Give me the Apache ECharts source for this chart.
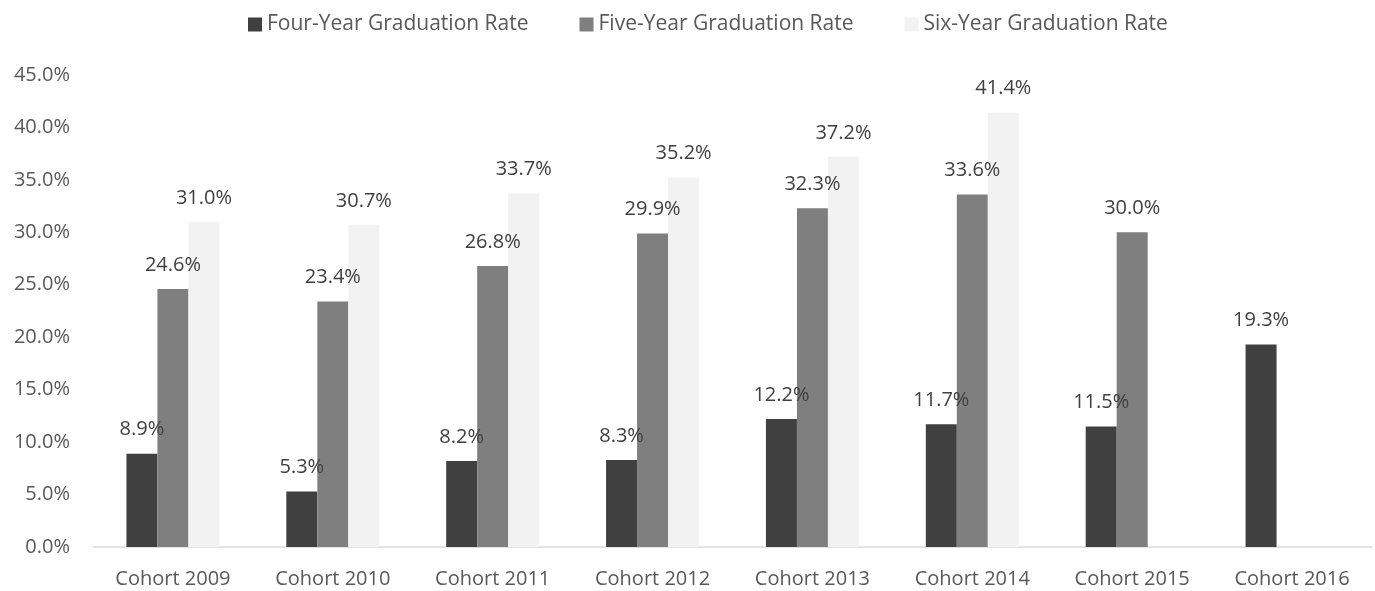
<!DOCTYPE html>
<html>
<head>
<meta charset="utf-8">
<script src="https://cdn.jsdelivr.net/npm/echarts@6/dist/echarts.min.js"></script>
<style>
  html, body { margin: 0; padding: 0; background: #fff; }
  #chart { width: 1375px; height: 591px; }
</style>
</head>
<body>
<div id="chart"></div>
<script>
  const categories = ['Cohort 2009', 'Cohort 2010', 'Cohort 2011', 'Cohort 2012', 'Cohort 2013', 'Cohort 2014', 'Cohort 2015', 'Cohort 2016'];
  const fourYear = [8.9, 5.3, 8.2, 8.3, 12.2, 11.7, 11.5, 19.3];
  const fiveYear = [24.6, 23.4, 26.8, 29.9, 32.3, 33.6, 30.0, null];
  const sixYear = [31.0, 30.7, 33.7, 35.2, 37.2, 41.4, null, null];
  const seriesNames = ['Four-Year Graduation Rate', 'Five-Year Graduation Rate', 'Six-Year Graduation Rate'];

  const font = '"Open Sans", sans-serif';
  const pct = (v) => Number(v).toFixed(1) + '%';

  const chart = echarts.init(document.getElementById('chart'));

  const labelStyle = {
    show: true,
    position: 'top',
    distance: 14,
    color: '#404040',
    fontSize: 20,
    fontFamily: font,
    formatter: (p) => pct(p.value),
  };

  const makeSeries = (name, data, color) => ({
    name,
    type: 'bar',
    data,
    barWidth: 31,
    barGap: '0%',
    itemStyle: { color },
    label: labelStyle,
  });

  chart.setOption({
    animation: false,
    textStyle: { fontFamily: font },
    legend: {
      top: 9,
      left: 243,
      itemWidth: 14,
      itemHeight: 14,
      itemGap: 51,
      icon: 'rect',
      textStyle: { color: '#595959', fontSize: 21, fontFamily: font },
      data: seriesNames,
    },
    grid: { left: 93, right: 3, top: 75, bottom: 44 },
    xAxis: {
      type: 'category',
      data: categories,
      axisLine: { lineStyle: { color: '#d9d9d9', width: 1.5 } },
      axisTick: { show: false },
      axisLabel: { color: '#595959', fontSize: 20, margin: 22, fontFamily: font },
    },
    yAxis: {
      type: 'value',
      min: 0,
      max: 45,
      interval: 5,
      axisLine: { show: false },
      axisTick: { show: false },
      splitLine: { show: false },
      axisLabel: { color: '#595959', fontSize: 20, margin: 23, fontFamily: font, formatter: pct },
    },
    series: [
      makeSeries(seriesNames[0], fourYear, '#404040'),
      makeSeries(seriesNames[1], fiveYear, '#7f7f7f'),
      makeSeries(seriesNames[2], sixYear, '#f2f2f2'),
    ],
  });
</script>
</body>
</html>
